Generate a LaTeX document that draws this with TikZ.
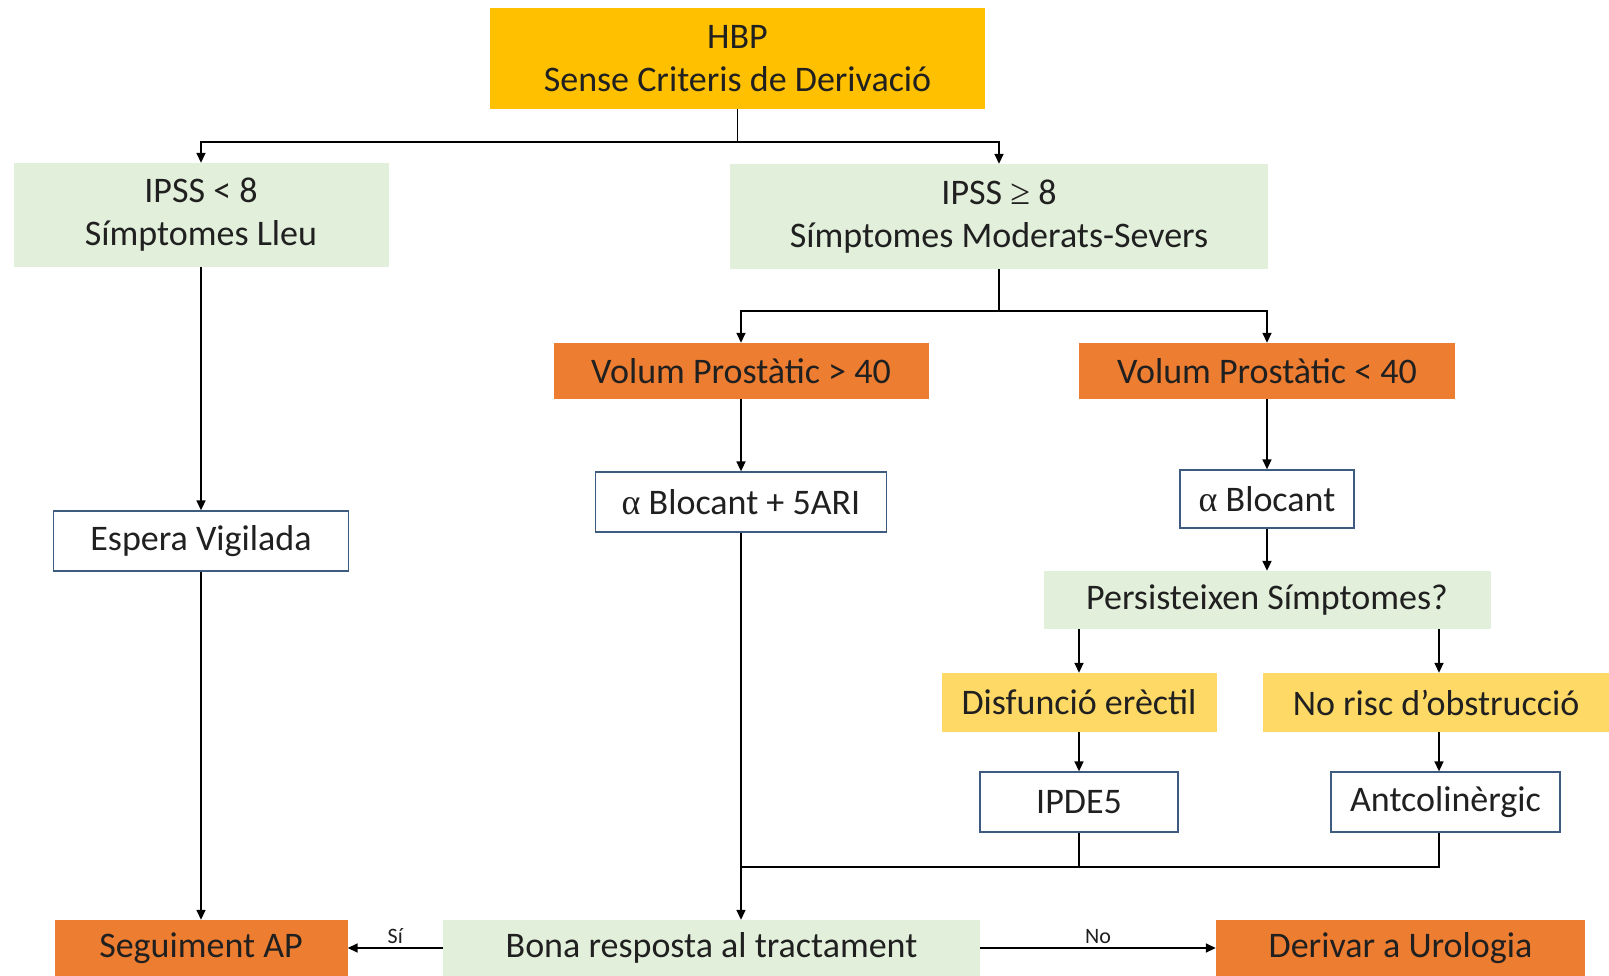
\documentclass[tikz,border=0pt]{standalone}
\usepackage{fontspec}
\setmainfont{Carlito}
\newfontfamily\symf{Liberation Serif}
\usetikzlibrary{arrows.meta}
\definecolor{gold}{HTML}{FFC000}
\definecolor{lgreen}{HTML}{E2EFDA}
\definecolor{orng}{HTML}{ED7D31}
\definecolor{yell}{HTML}{FFD966}
\definecolor{bord}{HTML}{3E5C80}
\definecolor{txt}{HTML}{202020}
\begin{document}
\begin{tikzpicture}[x=1pt,y=-1pt,
  box/.style={rectangle, inner sep=0pt, align=center, font=\fontsize{36}{43}\selectfont, text=txt},
  wbox/.style={box, fill=white, draw=bord, line width=1.3pt},
  conn/.style={line width=1.6pt, draw=black},
  arr/.style={conn, -{Triangle[length=10pt,width=9pt]}},
  lbl/.style={font=\fontsize{22}{26}\selectfont, text=txt, inner sep=4pt}]
\useasboundingbox (0,0) rectangle (1609,976);
\fill[white] (0,0) rectangle (1609,976);

\node[box, fill=gold, minimum width=495pt, minimum height=101pt] (hbp) at (737.5,58.5) {HBP\\Sense Criteris de Derivació};
\node[box, fill=lgreen, minimum width=375pt, minimum height=104pt] (ipssL) at (201,215) {IPSS < 8\\Símptomes Lleu};
\node[box, fill=lgreen, minimum width=538pt, minimum height=105pt] (ipssH) at (999,216.5) {IPSS {\symf ≥} 8\\Símptomes Moderats-Severs};
\node[box, fill=orng, minimum width=375pt, minimum height=56pt] (vol1) at (741,371) {Volum Prostàtic > 40};
\node[box, fill=orng, minimum width=376pt, minimum height=56pt] (vol2) at (1267,371) {Volum Prostàtic < 40};
\node[wbox, minimum width=291pt, minimum height=60pt] (ab5) at (741,502) {{\symf α} Blocant + 5ARI};
\node[wbox, minimum width=174pt, minimum height=58pt] (ab) at (1267,499) {{\symf α} Blocant};
\node[box, fill=lgreen, minimum width=447pt, minimum height=58pt] (pers) at (1267,600) {Persisteixen Símptomes?};
\node[box, fill=yell, minimum width=275pt, minimum height=59pt] (disf) at (1079,702.5) {Disfunció erèctil};
\node[box, fill=yell, minimum width=346pt, minimum height=59pt] (norisc) at (1436,702.5) {No risc d’obstrucció};
\node[wbox, minimum width=198pt, minimum height=60pt] (ipde) at (1079,802) {IPDE5};
\node[wbox, minimum width=229pt, minimum height=60pt] (antc) at (1445.5,802) {Antcolinèrgic};
\node[wbox, minimum width=295pt, minimum height=60pt] (espera) at (201,541) {Espera Vigilada};
\node[box, fill=orng, minimum width=293pt, minimum height=56pt] (seg) at (201,948) {Seguiment AP};
\node[box, fill=lgreen, minimum width=537pt, minimum height=56pt] (bona) at (711.5,948) {Bona resposta al tractament};
\node[box, fill=orng, minimum width=369pt, minimum height=56pt] (deriv) at (1400.5,948) {Derivar a Urologia};

\coordinate (j1) at (737.5,142);
\coordinate (j2) at (999,311);
\coordinate (j3) at (741,867);
\coordinate (nx) at (1439,0);

\draw[conn] (hbp.south) -- (j1);
\draw[arr] (j1) -| (ipssL.north);
\draw[arr] (j1) -| (ipssH.north);
\draw[conn] (ipssH.south) -- (j2);
\draw[arr] (j2) -| (vol1.north);
\draw[arr] (j2) -| (vol2.north);
\draw[arr] (ipssL.south) -- (espera.north);
\draw[arr] (vol1.south) -- (ab5.north);
\draw[arr] (vol2.south) -- (ab.north);
\draw[arr] (ab.south) -- (pers.north);
\draw[arr] (pers.south -| disf.north) -- (disf.north);
\draw[arr] (pers.south -| nx) -- (norisc.north -| nx);
\draw[arr] (disf.south) -- (ipde.north);
\draw[arr] (norisc.south -| nx) -- (antc.north -| nx);
\draw[arr] (ab5.south) -- (ab5.south |- bona.north);
\draw[conn] (ipde.south) |- (j3);
\draw[conn] (antc.south -| nx) |- (j3);
\draw[arr] (espera.south) -- (seg.north);
\draw[arr] (bona.west) -- (seg.east) node[midway, above, lbl] {Sí};
\draw[arr] (bona.east) -- (deriv.west) node[midway, above, lbl] {No};
\end{tikzpicture}
\end{document}
